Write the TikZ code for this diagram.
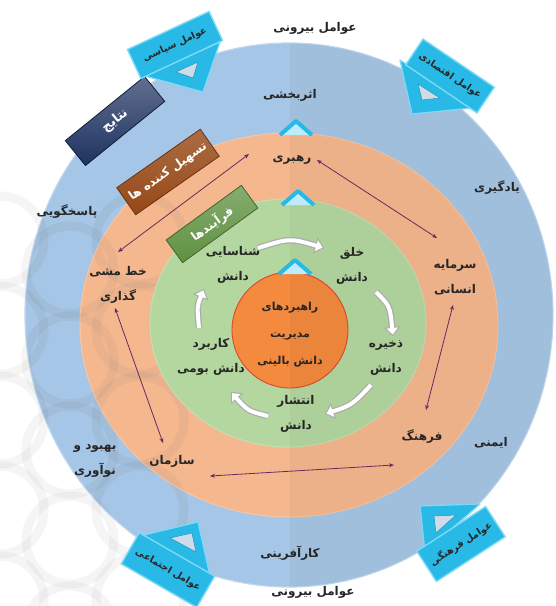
\documentclass[tikz,border=0pt]{standalone}
\usepackage{fontspec}
\newfontfamily\fa[Script=Arabic]{DejaVu Sans}
\TeXXeTstate=1
\usetikzlibrary{arrows.meta}
\definecolor{ringblue}{RGB}{165,198,230}
\definecolor{ringorange}{RGB}{245,184,142}
\definecolor{ringgreen}{RGB}{180,215,160}
\definecolor{corefill}{RGB}{243,138,62}
\definecolor{coreline}{RGB}{225,70,45}
\definecolor{navybox}{RGB}{30,50,95}
\definecolor{brownbox}{RGB}{150,72,22}
\definecolor{greenbox}{RGB}{95,145,65}
\definecolor{cyanbox}{RGB}{40,185,230}
\definecolor{cyanedge}{RGB}{125,218,246}
\definecolor{cyanhole}{RGB}{205,220,232}
\definecolor{arrowpurple}{RGB}{105,40,100}
\definecolor{wmgray}{RGB}{120,120,120}
\newcommand{\pr}[1]{\beginR #1\endR}
\begin{document}
\begin{tikzpicture}[x=1pt,y=-1pt,
  lbl/.style={font=\fa\bfseries\fontsize{12}{14}\selectfont, inner sep=0pt, text=black!85},
  lbltwo/.style={lbl, align=center, font=\fa\bfseries\fontsize{12}{25}\selectfont},
  lblthree/.style={lbl, align=center, font=\fa\bfseries\fontsize{11}{27}\selectfont},
  tagbox/.style={minimum height=30pt, inner sep=0pt, text=white, font=\fa\bfseries\fontsize{12}{14}\selectfont, line width=0.8pt},
  cyanbanner/.style={draw=cyanedge, line width=1.4pt, fill=cyanbox, minimum height=32pt, inner sep=0pt, font=\fa\bfseries\fontsize{9.5}{11}\selectfont, text=black!85},
  cyantri/.style={fill=cyanbox, draw=cyanedge, line width=1.2pt, line join=round},
  holetri/.style={fill=cyanhole, draw=cyanbox!80!black, line width=0.5pt},
  chev/.style={fill=cyanedge!50!white, draw=cyanbox, line width=4pt, line join=round},
  dbl/.style={draw=arrowpurple, line width=0.8pt, {Stealth[length=5pt,width=4pt]}-{Stealth[length=5pt,width=4pt]}},
  procback/.style={draw=gray!65, line width=6.5pt, -{Triangle[length=9pt,width=16pt]}},
  procfront/.style={draw=white, line width=4pt, -{Triangle[length=6.5pt,width=11pt]}, shorten >=1.5pt},
  wm/.style={draw=wmgray, line width=9pt, opacity=#1},
  wm/.default=0.1
]
\useasboundingbox (0,0) rectangle (556,606);
\fill[white] (0,0) rectangle (556,606);

% watermark outside
\begin{scope}
  \clip (0,190) rectangle (190,606);
  \foreach \cx/\cy in {0/240,70/270,140/240,0/330,70/360,140/330,0/420,70/450,140/420,0/510,70/540,140/510,0/600,70/630,140/600}
    \draw[wm=0.07] (\cx,\cy) circle (44pt);
\end{scope}

% rings
\fill[ringblue, draw=ringblue!70!white, line width=1.2pt] (289,315) ellipse [x radius=264pt, y radius=272pt];
\begin{scope}
  \clip (289,315) ellipse [x radius=264pt, y radius=272pt];
  \clip (0,190) rectangle (200,606);
  \foreach \cx/\cy in {0/240,70/270,140/240,0/330,70/360,140/330,0/420,70/450,140/420,0/510,70/540,140/510,0/600,70/630,140/600}
    \draw[wm] (\cx,\cy) circle (44pt);
\end{scope}
\fill[ringorange, draw=ringorange!80!white, line width=1pt] (289,325) ellipse [x radius=209pt, y radius=192pt];
\begin{scope}
  \clip (289,325) ellipse [x radius=209pt, y radius=192pt];
  \clip (0,190) rectangle (210,606);
  \foreach \cx/\cy in {0/240,70/270,140/240,0/330,70/360,140/330,0/420,70/450,140/420,0/510,70/540,140/510}
    \draw[wm=0.09] (\cx,\cy) circle (44pt);
\end{scope}
\fill[ringgreen, draw=ringgreen!80!white, line width=1pt] (288,323) ellipse [x radius=138pt, y radius=124pt];
\filldraw[fill=corefill, draw=coreline, line width=0.9pt] (290,330) circle (58pt);

% right half shade
\begin{scope}
  \clip (289,315) ellipse [x radius=264pt, y radius=272pt];
  \fill[black, opacity=0.035] (290,0) rectangle (556,606);
\end{scope}

% chevrons
\foreach \px/\py in {296/128,298/198,295/267}
  \filldraw[chev] (\px-16,\py+7) -- (\px,\py-7) -- (\px+16,\py+7);

% process arrows (white)
\coordinate (pa1s) at (258,248); \coordinate (pa1c) at (290,238); \coordinate (pa1e) at (324,248);
\coordinate (pa2s) at (376,292); \coordinate (pa2c) at (390,306); \coordinate (pa2e) at (393,336);
\coordinate (pa3s) at (371,385); \coordinate (pa3c) at (352,405); \coordinate (pa3e) at (325,414);
\coordinate (pa4s) at (268,416); \coordinate (pa4c) at (248,411); \coordinate (pa4e) at (231,392);
\coordinate (pa5s) at (199,328); \coordinate (pa5c) at (197,306); \coordinate (pa5e) at (204,289);
\foreach \n in {1,...,5}{
  \draw[procback] (pa\n s) .. controls (pa\n c) .. (pa\n e);
  \draw[procfront] (pa\n s) .. controls (pa\n c) .. (pa\n e);
}

% labels
\node[lbl] (extTop) at (315,28) {\pr{عوامل بیرونی}};
\node[lbl] (asar) at (290,95) {\pr{اثربخشی}};
\node[lbl] (yad) at (497,188) {\pr{یادگیری}};
\node[lbl] (pas) at (67,212) {\pr{پاسخگویی}};
\node[lbl] (rah) at (292,160) {\pr{رهبری}};
\node[lbltwo] (sar) at (455,277) {\pr{سرمایه}\\\pr{انسانی}};
\node[lbltwo] (khat) at (118,285) {\pr{خط مشی}\\\pr{گذاری}};
\node[lbl] (far) at (422,437) {\pr{فرهنگ}};
\node[lbl] (saz) at (172,461) {\pr{سازمان}};
\node[lbltwo] (beh) at (95,461) {\pr{بهبود و}\\\pr{نوآوری}};
\node[lbl] (imn) at (491,443) {\pr{ایمنی}};
\node[lbl] (kar) at (290,553) {\pr{کارآفرینی}};
\node[lbl] (extBot) at (313,592) {\pr{عوامل بیرونی}};
\node[lbltwo] (shen) at (233,265) {\pr{شناسایی}\\\pr{دانش}};
\node[lbltwo] (khal) at (352,266) {\pr{خلق}\\\pr{دانش}};
\node[lbltwo] (zak) at (386,358) {\pr{ذخیره}\\\pr{دانش}};
\node[lbltwo] (ent) at (296,414) {\pr{انتشار}\\\pr{دانش}};
\node[lbltwo] (karb) at (211,357) {\pr{کاربرد}\\\pr{دانش بومی}};
\node[lblthree] (core) at (290,335) {\pr{راهبردهای}\\\pr{مدیریت}\\\pr{دانش بالینی}};

% purple double arrows
\coordinate (k1) at (118,252); \coordinate (r1) at (249,154);
\coordinate (r2) at (317,160); \coordinate (s1) at (437,238);
\coordinate (s2) at (453,305); \coordinate (f1) at (426,410);
\coordinate (f2) at (394,465); \coordinate (z1) at (210,476);
\coordinate (z2) at (163,443); \coordinate (k2) at (115,308);
\draw[dbl] (k1) -- (r1);
\draw[dbl] (r2) -- (s1);
\draw[dbl] (s2) -- (f1);
\draw[dbl] (f2) -- (z1);
\draw[dbl] (z2) -- (k2);

% category tags
\node[tagbox, rotate=39, minimum width=102pt, minimum height=32pt, top color=navybox!70!white, bottom color=navybox, draw=navybox!60!black, font=\fa\bfseries\fontsize{13}{15}\selectfont] (nat) at (115,121) {\pr{نتایج}};
\node[tagbox, rotate=35, minimum width=102pt, minimum height=33pt, top color=brownbox!80!white, bottom color=brownbox, draw=brownbox!70!black] (tas) at (168,172) {\pr{تسهیل کننده ها}};
\node[tagbox, rotate=36, minimum width=93pt, minimum height=28pt, top color=greenbox!75!white, bottom color=greenbox, draw=greenbox!70!black] (far2) at (212,224) {\pr{فرآیندها}};

% external factor banners
\filldraw[cyantri] (145,76) -- (220,42) -- (203,92) -- cycle;
\filldraw[holetri] (176,72) -- (198,62) -- (193,78) -- cycle;
\node[cyanbanner, rotate=25, minimum width=90pt] (siy) at (175,45) {\pr{عوامل سیاسی}};

\filldraw[cyantri] (400,60) -- (412,114) -- (472,108) -- cycle;
\filldraw[holetri] (418,84) -- (422,100) -- (440,98) -- cycle;
\node[cyanbanner, rotate=-34, minimum width=86pt, minimum height=31pt] (eqt) at (450,76) {\pr{عوامل اقتصادی}};

\filldraw[cyantri] (140,536) -- (198,522) -- (210,576) -- cycle;
\filldraw[holetri] (170,538) -- (192,533) -- (196,552) -- cycle;
\node[cyanbanner, rotate=-30, minimum width=87pt, minimum height=36pt] (ejt) at (168,570) {\pr{عوامل اجتماعی}};

\filldraw[cyantri] (420,506) -- (480,504) -- (425,552) -- cycle;
\filldraw[holetri] (434,516) -- (456,515) -- (436,533) -- cycle;
\node[cyanbanner, rotate=33, minimum width=82pt, minimum height=36pt] (frh) at (461,544) {\pr{عوامل فرهنگی}};
\end{tikzpicture}
\end{document}
